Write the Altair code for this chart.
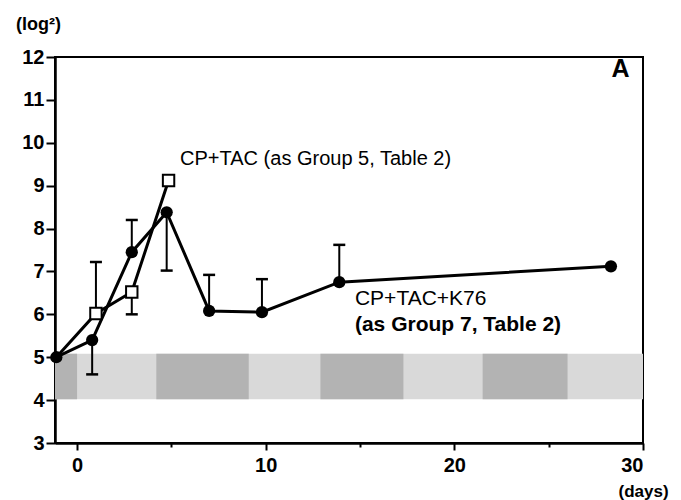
import altair as alt
import pandas as pd

# --- data ---
k76_day = [-1.1, 0.8, 2.9, 4.75, 7.0, 9.8, 13.9, 28.3]
k76_val = [5.0, 5.4, 7.45, 8.38, 6.08, 6.05, 6.75, 7.12]

tac_day = [-1.1, 1.0, 2.9, 4.85]
tac_val = [5.0, 6.02, 6.52, 9.12]

err_day = [0.8, 2.9, 4.75, 7.0, 9.8, 13.9, 1.0, 2.9]
err_from = [5.4, 7.45, 8.38, 6.08, 6.05, 6.75, 6.02, 6.52]
err_to = [4.6, 8.2, 7.02, 6.92, 6.82, 7.62, 7.22, 6.0]

band_start = [-1.17, -1.17, 4.2, 12.9, 21.5]
band_end = [30.0, 0.0, 9.1, 17.3, 26.0]
band_low = [4.02, 4.02, 4.02, 4.02, 4.02]
band_high = [5.08, 5.08, 5.08, 5.08, 5.08]
band_shade = ["light", "dark", "dark", "dark", "dark"]

normal_text = ["CP+TAC (as Group 5, Table 2)"]
normal_day = [5.46]
normal_val = [9.62]
k76_text = ["CP+TAC+K76"]
k76_tday = [14.73]
k76_tval = [6.36]
bold_text = ["(as Group 7, Table 2)"]
bold_day = [14.73]
bold_val = [5.75]
panel_text = ["A"]
panel_day = [28.33]
panel_val = [11.72]

x_domain = [-1.17, 30]
y_domain = [3, 12]
x_ticks = [0, 5, 10, 15, 20, 25, 30]
y_ticks = [3 + 0.5 * i for i in range(19)]

FONT = "Liberation Sans"

k76 = pd.DataFrame({"day": k76_day, "val": k76_val})
tac = pd.DataFrame({"day": tac_day, "val": tac_val})
err = pd.DataFrame({"day": err_day, "v1": err_from, "v2": err_to})
band = pd.DataFrame({"x1": band_start, "x2": band_end, "y1": band_low,
                     "y2": band_high, "shade": band_shade})
t_norm = pd.DataFrame({"day": normal_day, "val": normal_val, "text": normal_text})
t_k76 = pd.DataFrame({"day": k76_tday, "val": k76_tval, "text": k76_text})
t_bold = pd.DataFrame({"day": bold_day, "val": bold_val, "text": bold_text})
t_panel = pd.DataFrame({"day": panel_day, "val": panel_val, "text": panel_text})

xs = alt.Scale(domain=x_domain, nice=False, zero=False)
ys = alt.Scale(domain=y_domain, nice=False, zero=False)

xaxis = alt.Axis(
    values=x_ticks,
    labelExpr="datum.value % 10 === 0 ? datum.label : ''",
    tickSize={"condition": {"test": "datum.value % 10 === 0", "value": 7}, "value": 4},
    tickWidth=2, tickColor="black", domainWidth=2.5, domainColor="black",
    labelFont=FONT, labelFontSize=20, labelFontWeight="bold", labelColor="black",
    labelPadding=5, grid=False,
    title="(days)", titleFont=FONT, titleFontSize=17, titleFontWeight="bold",
    titleX=588, titleY=48, titleAlign="center", titleBaseline="middle", titleColor="black",
)
yaxis = alt.Axis(
    values=y_ticks,
    labelExpr="datum.value % 1 === 0 ? datum.label : ''",
    tickSize={"condition": {"test": "datum.value % 1 === 0", "value": 9}, "value": 5},
    tickWidth=2, tickColor="black", domainWidth=2.5, domainColor="black",
    labelFont=FONT, labelFontSize=20, labelFontWeight="bold", labelColor="black",
    labelPadding=2, grid=False,
    title="(log²)", titleFont=FONT, titleFontSize=18, titleFontWeight="bold",
    titleAngle=0, titleX=-17, titleY=-33, titleAlign="center", titleBaseline="middle",
    titleColor="black",
)

band_layer = alt.Chart(band).mark_rect().encode(
    x=alt.X("x1:Q", scale=xs, axis=xaxis),
    x2="x2:Q",
    y=alt.Y("y1:Q", scale=ys, axis=yaxis),
    y2="y2:Q",
    color=alt.Color("shade:N", scale=alt.Scale(domain=["light", "dark"],
                                               range=["#d9d9d9", "#b3b3b3"]), legend=None),
)

err_rule = alt.Chart(err).mark_rule(color="black", strokeWidth=2).encode(
    x="day:Q", y="v1:Q", y2="v2:Q")
err_cap = alt.Chart(err).mark_rule(color="black", strokeWidth=2.5, xOffset=-6, x2Offset=6).encode(
    x="day:Q", x2="day:Q", y="v2:Q")

tac_line = alt.Chart(tac).mark_line(color="black", strokeWidth=3).encode(
    x="day:Q", y="val:Q", order="day:Q")
k76_line = alt.Chart(k76).mark_line(color="black", strokeWidth=3).encode(
    x="day:Q", y="val:Q", order="day:Q")

k76_pts = alt.Chart(k76).mark_point(shape="circle", filled=True, color="black",
                                    size=150, opacity=1).encode(x="day:Q", y="val:Q")
tac_pts = alt.Chart(tac.iloc[1:]).mark_point(shape="square", filled=True, fill="white",
                                             stroke="black", strokeWidth=2, size=130,
                                             opacity=1).encode(x="day:Q", y="val:Q")

txt_norm = alt.Chart(t_norm).mark_text(align="left", baseline="middle", font=FONT,
                                       fontSize=20, color="black").encode(
    x="day:Q", y="val:Q", text="text:N")
txt_k76 = alt.Chart(t_k76).mark_text(align="left", baseline="middle", font=FONT,
                                     fontSize=21, color="black").encode(
    x="day:Q", y="val:Q", text="text:N")
txt_bold = alt.Chart(t_bold).mark_text(align="left", baseline="middle", font=FONT,
                                       fontSize=21, fontWeight="bold", color="black").encode(
    x="day:Q", y="val:Q", text="text:N")
txt_panel = alt.Chart(t_panel).mark_text(align="left", baseline="middle", font=FONT,
                                         fontSize=25, fontWeight="bold", color="black").encode(
    x="day:Q", y="val:Q", text="text:N")

chart = alt.layer(
    band_layer, err_rule, err_cap, tac_line, k76_line, k76_pts, tac_pts,
    txt_norm, txt_k76, txt_bold, txt_panel
).properties(
    width=588, height=386,
    autosize=alt.AutoSizeParams(type="none"),
    padding={"left": 55, "top": 57, "right": 38, "bottom": 57},
    background="white",
).configure_view(stroke="black", strokeWidth=2)

chart.save("out.html", embed_options={"renderer": "svg", "actions": False})
